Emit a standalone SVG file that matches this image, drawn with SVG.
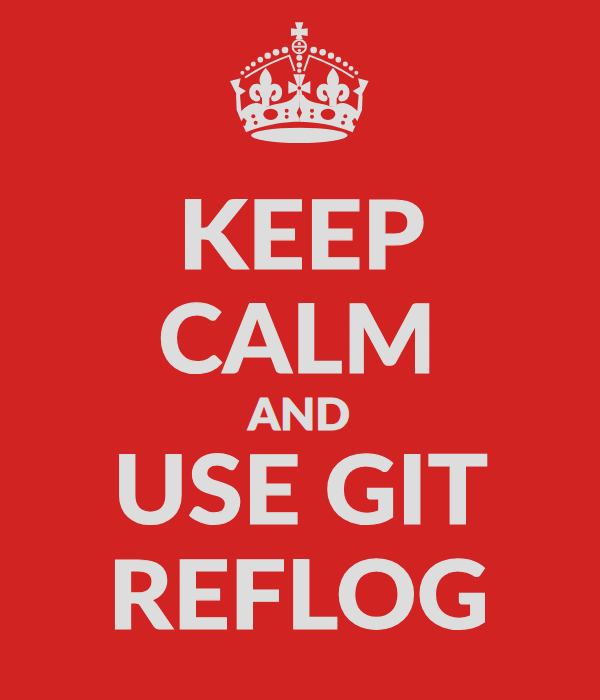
<svg xmlns="http://www.w3.org/2000/svg" xmlns:xlink="http://www.w3.org/1999/xlink" width="600" height="700" viewBox="0 0 600 700">
<style>
.t{font-family:Lato,"Liberation Sans",sans-serif;font-weight:900;fill:#dddddd;stroke:#dddddd;stroke-width:1.2;text-anchor:start}
.c{fill:#dddddd}
.r{fill:#d02322}
.curl{fill:none;stroke:#dddddd;stroke-width:19;stroke-linecap:round}
</style>
<defs>
<g id="half">
<circle class="c" cx="195" cy="105" r="10"/><circle class="c" cx="168" cy="112" r="10"/><circle class="c" cx="143" cy="122" r="9.5"/><circle class="c" cx="121" cy="134" r="8.5"/><circle class="c" cx="100" cy="147" r="7.5"/><circle class="c" cx="83" cy="160" r="7"/><circle class="c" cx="67" cy="173" r="6"/>
<path d="M75,188 Q135,148 208,122 L224,168" fill="none" stroke="#dddddd" stroke-width="6"/>
<path class="c" d="M30,198 L62,190 L56,215 L78,228 L60,240 L64,288 C90,262 115,258 130,272 L144,275 C170,262 210,268 226,240 L238,240 L238,320 C190,320 130,330 78,352 L50,285 L48,235 Z"/>
<ellipse class="r" cx="45" cy="238" rx="3.5" ry="7"/>
<path class="c" d="M137,158 C122,176 112,195 124,212 C128,220 130,228 126,240 L148,240 C144,228 146,220 150,212 C162,195 152,176 137,158 Z"/>
<path class="curl" d="M130,240 C124,210 98,208 97,232 C97,245 104,250 111,250"/>
<path class="curl" d="M144,240 C150,210 176,208 177,232 C177,245 170,250 163,250"/>
<rect class="c" x="126" y="235" width="22" height="40"/>
<path class="c" d="M220,178 L238,178 L238,262 L224,262 L232,226 L205,236 L205,198 L232,212 Z"/>
<ellipse class="r" cx="152" cy="298" rx="22" ry="17"/>
<circle class="r" cx="100" cy="304" r="6"/><circle class="r" cx="107" cy="323" r="6"/>
<circle class="r" cx="200" cy="287" r="6"/><circle class="r" cx="200" cy="305" r="6"/>
<path class="r" d="M63,320 L71,308 L80,317 L75,333 L65,330 Z"/>
</g>
</defs>
<rect width="600" height="700" fill="#d02322"/>
<g id="crown" transform="translate(220,15) scale(0.33333)">
<use href="#half" xlink:href="#half"/>
<use href="#half" xlink:href="#half" transform="translate(476,0) scale(-1,1)"/>
<path class="c" d="M225,22 L250,22 L244,42 L263,40 L263,63 L244,60 L248,72 L227,72 L231,60 L213,63 L213,40 L231,42 Z"/>
<circle class="c" cx="238" cy="95" r="23"/>
<circle class="r" cx="238" cy="95" r="17"/>
<rect class="c" x="221" y="92" width="34" height="6"/>
<circle class="c" cx="238" cy="86" r="5"/>
<circle class="c" cx="238" cy="106" r="5"/>
<circle class="c" cx="238" cy="128" r="9"/><circle class="c" cx="238" cy="150" r="8"/><circle class="c" cx="238" cy="167" r="6.5"/>
<path class="r" d="M238,275 L246,293 L238,310 L230,293 Z"/>
<circle class="r" cx="238" cy="219" r="5.5"/>
<ellipse class="c" cx="238" cy="361" rx="145" ry="23"/>
</g>
<g id="texts">
<text class="t" x="178" y="269" font-size="95" textLength="247" lengthAdjust="spacingAndGlyphs">KEEP</text>
<text class="t" x="158" y="373" font-size="95" textLength="278" lengthAdjust="spacingAndGlyphs">CALM</text>
<text class="t" x="248" y="430" font-size="43" textLength="102" lengthAdjust="spacingAndGlyphs">AND</text>
<text class="t" x="113" y="524" font-size="95" textLength="375" lengthAdjust="spacingAndGlyphs">USE GIT</text>
<text class="t" x="108" y="629" font-size="95" textLength="381" lengthAdjust="spacingAndGlyphs">REFLOG</text>
</g>
</svg>
